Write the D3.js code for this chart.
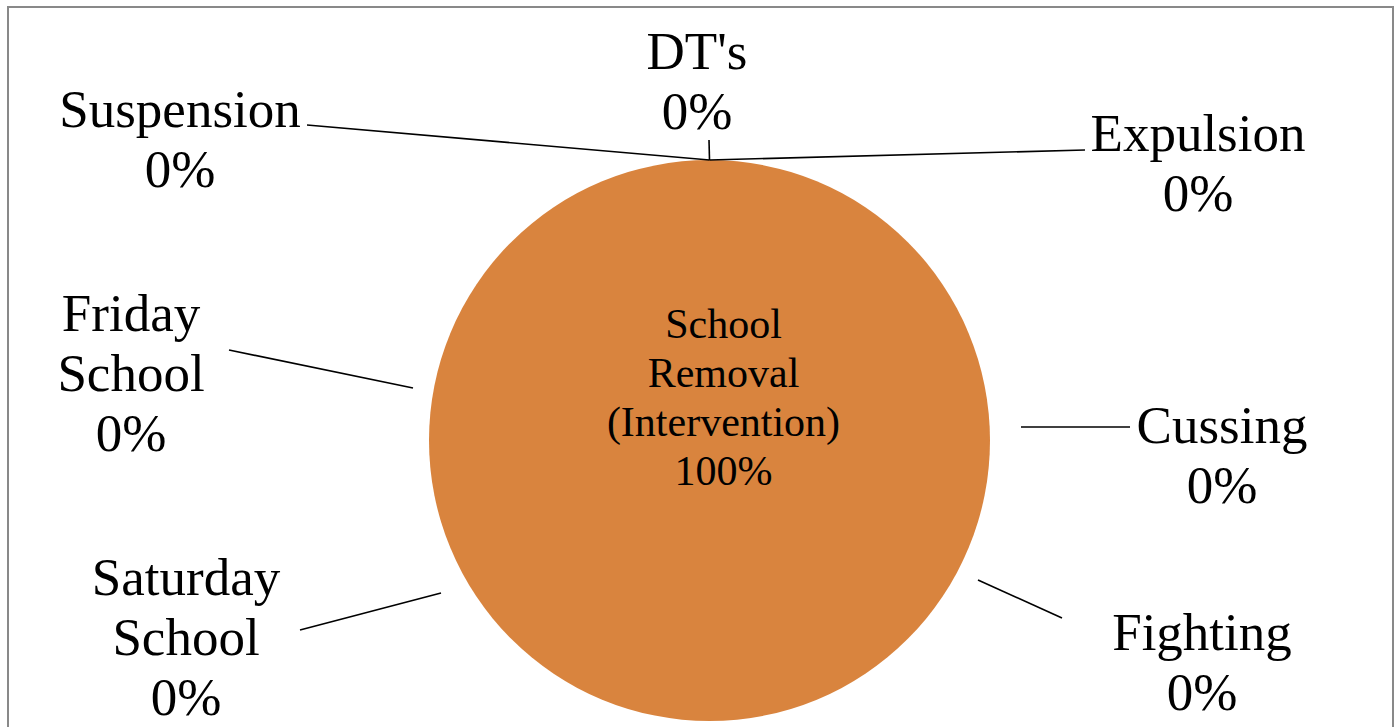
<!DOCTYPE html>
<html>
<head>
  <meta charset="utf-8">
  <title>School Removal pie</title>
  <style>
    body { margin: 0; background: #fff; }
    svg { display: block; }
    text { font-family: "Liberation Serif", "Times New Roman", serif; fill: #000; }
  </style>
  <script src="https://cdn.jsdelivr.net/npm/d3@7"></script>
</head>
<body>
<div id="chart"></div>
<script>

// data
var categories = ["DT's", "Expulsion", "Cussing", "Fighting", "Saturday School", "Friday School", "Suspension", "School Removal (Intervention)"];
var values = [0, 0, 0, 0, 0, 0, 0, 100];
var percentLabels = ["0%", "0%", "0%", "0%", "0%", "0%", "0%", "100%"];

// label layout (Excel places these by hand, more or less)
var labelLines = [
  ["DT's"], ["Expulsion"], ["Cussing"], ["Fighting"],
  ["Saturday", "School"], ["Friday", "School"], ["Suspension"],
  ["School", "Removal", "(Intervention)"]
];
var labelPos = [
  [697, 69], [1198, 151], [1222, 443], [1202, 650],
  [186, 595], [131, 331], [180, 127], [0, 0]
];
// leader line start (near label); end is on the pie edge or just outside it
var leaderFrom = [[709, 140], [1085, 150], [1130, 427], [1062, 618], [300, 630], [229, 350], [307, 125], null];
var leaderTo   = [null, null, [1021, 427], [978, 580], [441, 593], [413, 388], null, null];

var width = 1398, height = 727;
var cx = 709.5, cy = 440.5, radius = 280.5;

var svg = d3.select("#chart").append("svg")
  .attr("width", width)
  .attr("height", height);

// chart area border
svg.append("rect")
  .attr("x", 8).attr("y", 7)
  .attr("width", 1385).attr("height", 740)
  .attr("fill", "#fff")
  .attr("stroke", "#898989")
  .attr("stroke-width", 2);

var pie = d3.pie().sort(null).value(function(d) { return d; });
var arcs = pie(values);

var arc = d3.arc().innerRadius(0).outerRadius(radius);

var g = svg.append("g").attr("transform", "translate(" + cx + "," + cy + ")");

g.selectAll("path.slice")
  .data(arcs)
  .enter().append("path")
  .attr("class", "slice")
  .attr("d", arc)
  .attr("fill", "#d9843e");

// leader lines
var edge = d3.arc().innerRadius(radius).outerRadius(radius);
arcs.forEach(function(a, i) {
  if (!leaderFrom[i]) return;
  var to = leaderTo[i];
  if (!to) {
    // point on the edge at the slice's start angle
    var ang = a.startAngle;
    to = [cx + radius * Math.sin(ang), cy - radius * Math.cos(ang)];
  }
  svg.append("line")
    .attr("x1", leaderFrom[i][0]).attr("y1", leaderFrom[i][1])
    .attr("x2", to[0]).attr("y2", to[1])
    .attr("stroke", "#000")
    .attr("stroke-width", 1.6);
});

// outside labels
var lineH = 60;
categories.forEach(function(c, i) {
  if (values[i] > 0) return;
  var t = svg.append("text")
    .attr("text-anchor", "middle")
    .attr("font-size", 53);
  var lines = labelLines[i].concat([percentLabels[i]]);
  lines.forEach(function(s, k) {
    t.append("tspan")
      .attr("x", labelPos[i][0])
      .attr("y", labelPos[i][1] + k * lineH)
      .text(s);
  });
});

// inside label for the big slice
arcs.forEach(function(a, i) {
  if (values[i] <= 0) return;
  var lines = labelLines[i].concat([percentLabels[i]]);
  var t = svg.append("text")
    .attr("text-anchor", "middle")
    .attr("font-size", 42);
  lines.forEach(function(s, k) {
    t.append("tspan")
      .attr("x", cx + 14)
      .attr("y", 338 + k * 49)
      .text(s);
  });
});

</script>
</body>
</html>
